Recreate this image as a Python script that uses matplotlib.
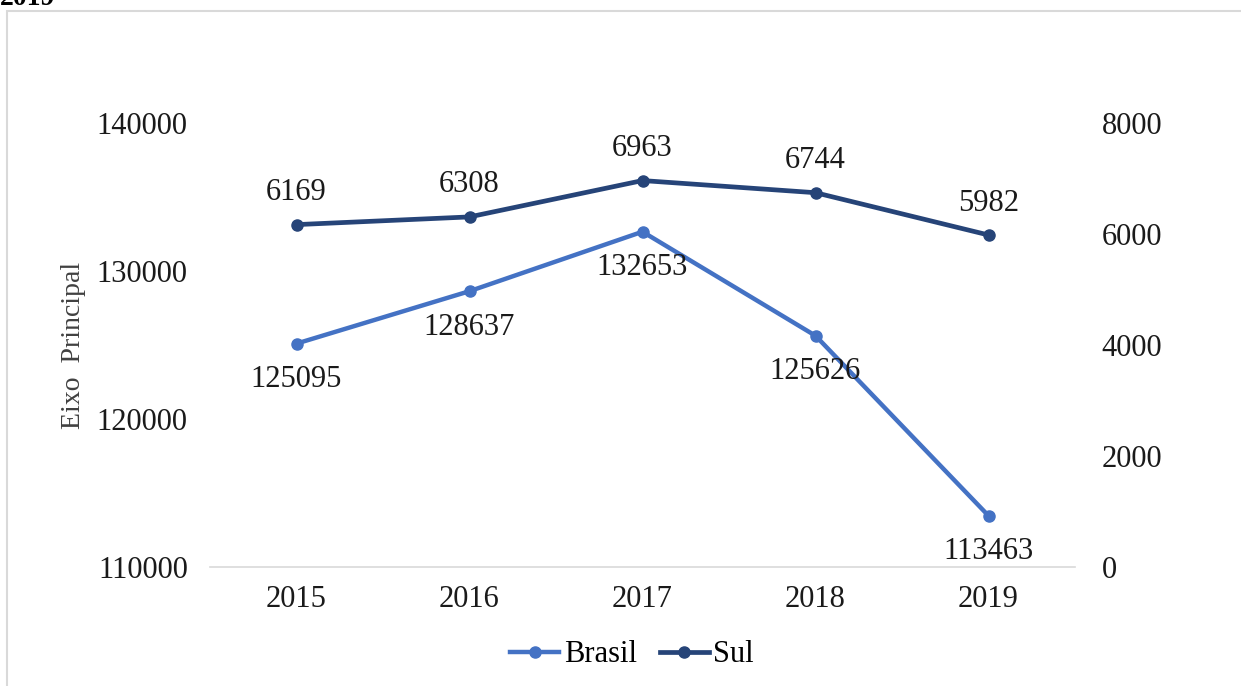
import matplotlib
matplotlib.use("Agg")
import matplotlib.pyplot as plt
from matplotlib.patches import Rectangle
from matplotlib.lines import Line2D

years = ["2015", "2016", "2017", "2018", "2019"]
brasil = [125095, 128637, 132653, 125626, 113463]
sul = [6169, 6308, 6963, 6744, 5982]
left_ticks = [110000, 120000, 130000, 140000]
right_ticks = [0, 2000, 4000, 6000, 8000]

plt.rcParams['font.family'] = ['Liberation Serif', 'DejaVu Serif']
FS = 22
c_brasil = "#4472C4"
c_sul = "#264478"
txt = "#1a1a1a"

W, H = 1241, 686
fig = plt.figure(figsize=(W / 100, H / 100), dpi=100)
ax = fig.add_axes([210 / W, 1 - 567 / H, (1075 - 210) / W, (567 - 123) / H])
ax2 = ax.twinx()

x = list(range(len(years)))
ax.plot(x, brasil, color=c_brasil, lw=3.2, marker='o', ms=8, zorder=3)
ax2.plot(x, sul, color=c_sul, lw=3.4, marker='o', ms=8, zorder=3)

for xi, v in zip(x, brasil):
    ax.annotate(str(v), (xi, v), xytext=(0, -26), textcoords='offset points',
                ha='center', va='center', fontsize=FS, color=txt)
for xi, v in zip(x, sul):
    ax2.annotate(str(v), (xi, v), xytext=(0, 23), textcoords='offset points',
                 ha='center', va='center', fontsize=FS, color=txt)

ax.set_xlim(-0.5, len(years) - 0.5)
ax.set_ylim(110000, 140000)
ax2.set_ylim(0, 8000)
ax.set_xticks(x)
ax.set_xticklabels(years)
ax.set_yticks(left_ticks)
ax2.set_yticks(right_ticks)

for a in (ax, ax2):
    for s in a.spines.values():
        s.set_visible(False)
    a.tick_params(length=0, labelsize=FS, colors=txt)
ax.spines['bottom'].set_visible(True)
ax.spines['bottom'].set_color('#D9D9D9')
ax.spines['bottom'].set_linewidth(1.2)
ax.tick_params(axis='y', pad=16)
ax.tick_params(axis='x', pad=13)
ax2.tick_params(axis='y', pad=19)

ax.set_ylabel("Eixo  Principal", fontsize=20, color='#404040')
ax.yaxis.set_label_coords(-0.143, 0.5)

handles = [Line2D([], [], color=c_brasil, lw=3.2, marker='o', ms=8),
           Line2D([], [], color=c_sul, lw=3.4, marker='o', ms=8)]
fig.legend(handles, ["Brasil", "Sul"], loc='center', ncol=2, frameon=False,
           bbox_to_anchor=(632 / W, 1 - 655 / H), fontsize=FS,
           handlelength=1.6, handletextpad=0.15, columnspacing=0.75)

fig.add_artist(Rectangle((7 / W, -0.1), 1.2, (1 - 11 / H) + 0.1,
                         transform=fig.transFigure, fill=False,
                         ec='#D9D9D9', lw=1.5))
fig.text(0.0, 1 - 5 / H, "2019", fontsize=20, weight='bold', va='baseline',
         ha='left', color='black')

fig.savefig("out.png", dpi=100)
